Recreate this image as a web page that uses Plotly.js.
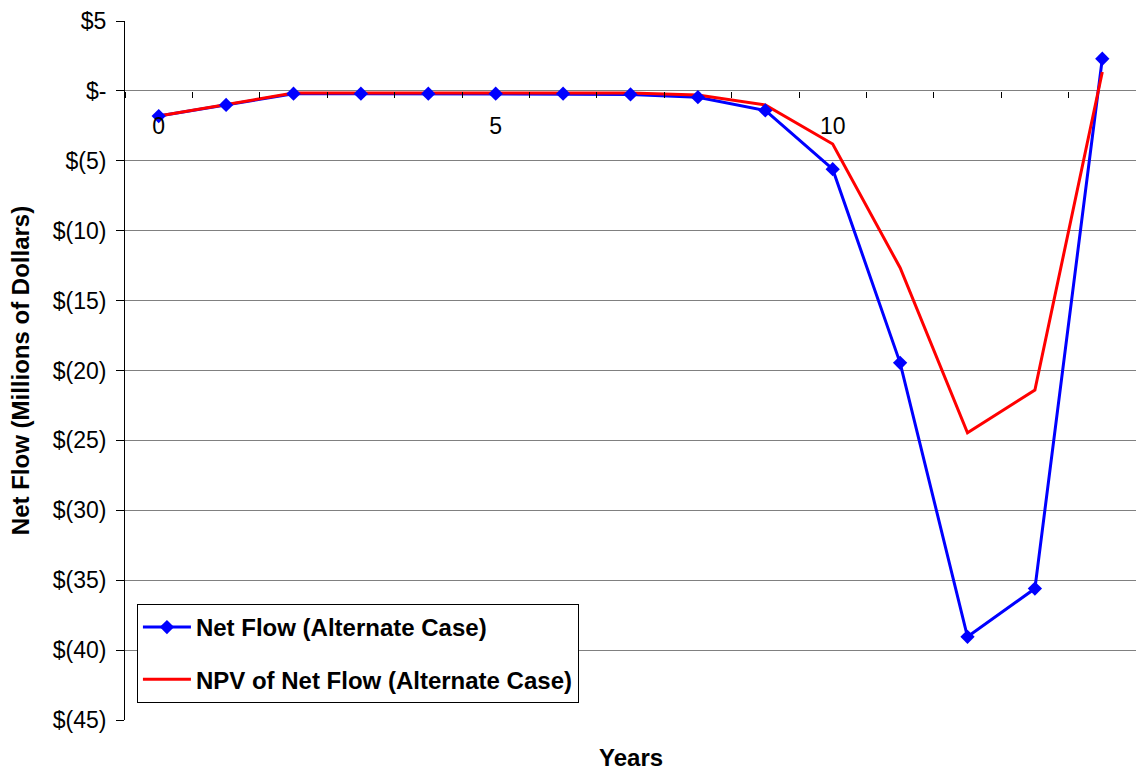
<!DOCTYPE html>
<html><head><meta charset="utf-8">
<script src="https://cdn.plot.ly/plotly-3.0.1.min.js"></script>
<style>html,body{margin:0;padding:0;background:#fff}#c{width:1136px;height:770px}</style>
</head><body><div id="c"></div>
<script>
const years = [0,1,2,3,4,5,6,7,8,9,10,11,12,13,14];
const netFlow = [-1.8,-1.0,-0.2,-0.2,-0.2,-0.2,-0.2,-0.25,-0.45,-1.4,-5.6,-19.45,-39.05,-35.6,2.3];
const npvNetFlow = [-1.8,-1.0,-0.15,-0.15,-0.15,-0.15,-0.15,-0.15,-0.3,-1.0,-3.8,-12.65,-24.45,-21.4,1.35];
const yTickVals = [5,0,-5,-10,-15,-20,-25,-30,-35,-40,-45];
const yTickText = ['$5','$-','$(5)','$(10)','$(15)','$(20)','$(25)','$(30)','$(35)','$(40)','$(45)'];
const xTickVals = [0,5,10];
const xTickText = ['0','5','10'];
const seriesNames = ['Net Flow (Alternate Case)','NPV of Net Flow (Alternate Case)'];

const F = '"Liberation Sans", Arial, sans-serif';
const blue = '#0000FF', red = '#FF0000';
const traces = [
  {x: years, y: netFlow, mode: 'lines', line: {color: blue, width: 3}, showlegend: false, hoverinfo: 'skip'},
  {x: years, y: npvNetFlow, mode: 'lines', line: {color: red, width: 3}, name: seriesNames[1], legendgroup: 'b', legendrank: 2},
  {x: years, y: netFlow, mode: 'markers', marker: {color: blue, symbol: 'diamond', size: 11}, showlegend: false},
  {x: [null], y: [null], mode: 'lines+markers', line: {color: blue, width: 3}, marker: {color: blue, symbol: 'diamond', size: 11}, name: seriesNames[0], legendgroup: 'a', legendrank: 1}
];
const layout = {
  width: 1136, height: 770,
  margin: {l: 125, r: 0, t: 21, b: 50},
  paper_bgcolor: '#fff', plot_bgcolor: '#fff',
  font: {family: F, color: '#000', size: 23},
  showlegend: true,
  legend: {x: 0.0118, y: 0.166, xanchor: 'left', yanchor: 'top', bordercolor: '#000', borderwidth: 1,
           bgcolor: '#fff', font: {family: F, size: 24, color: '#000', weight: 'bold'},
           traceorder: 'grouped', tracegroupgap: 18, itemwidth: 48},
  annotations: [
    {text: 'Years', xref: 'paper', yref: 'paper', x: 0.5, y: -0.053, xanchor: 'center', yanchor: 'middle',
     showarrow: false, font: {family: F, size: 24, weight: 'bold', color: '#000'}}
  ],
  xaxis: {range: [-0.5, 14.5], anchor: 'free', position: 0.9, showgrid: false, zeroline: false,
          showline: false, tickmode: 'array', tickvals: xTickVals, ticktext: xTickText, ticks: '',
          ticklabelstandoff: 19, tickfont: {size: 23},
          minor: {tick0: -0.5, dtick: 1, ticks: 'outside', ticklen: 6, tickcolor: '#000', showgrid: false}},
  yaxis: {range: [-45, 5], tickmode: 'array', tickvals: yTickVals, ticktext: yTickText,
          showgrid: true, gridcolor: '#808080', gridwidth: 1, zeroline: false,
          showline: true, linecolor: '#000', linewidth: 1, ticks: 'outside', ticklen: 8, tickcolor: '#000',
          tickfont: {size: 23}, ticklabelstandoff: 5,
          title: {text: 'Net Flow (Millions of Dollars)', font: {size: 24, weight: 'bold'}, standoff: 16}}
};
Plotly.newPlot('c', traces, layout, {displayModeBar: false, staticPlot: true});
</script></body></html>
